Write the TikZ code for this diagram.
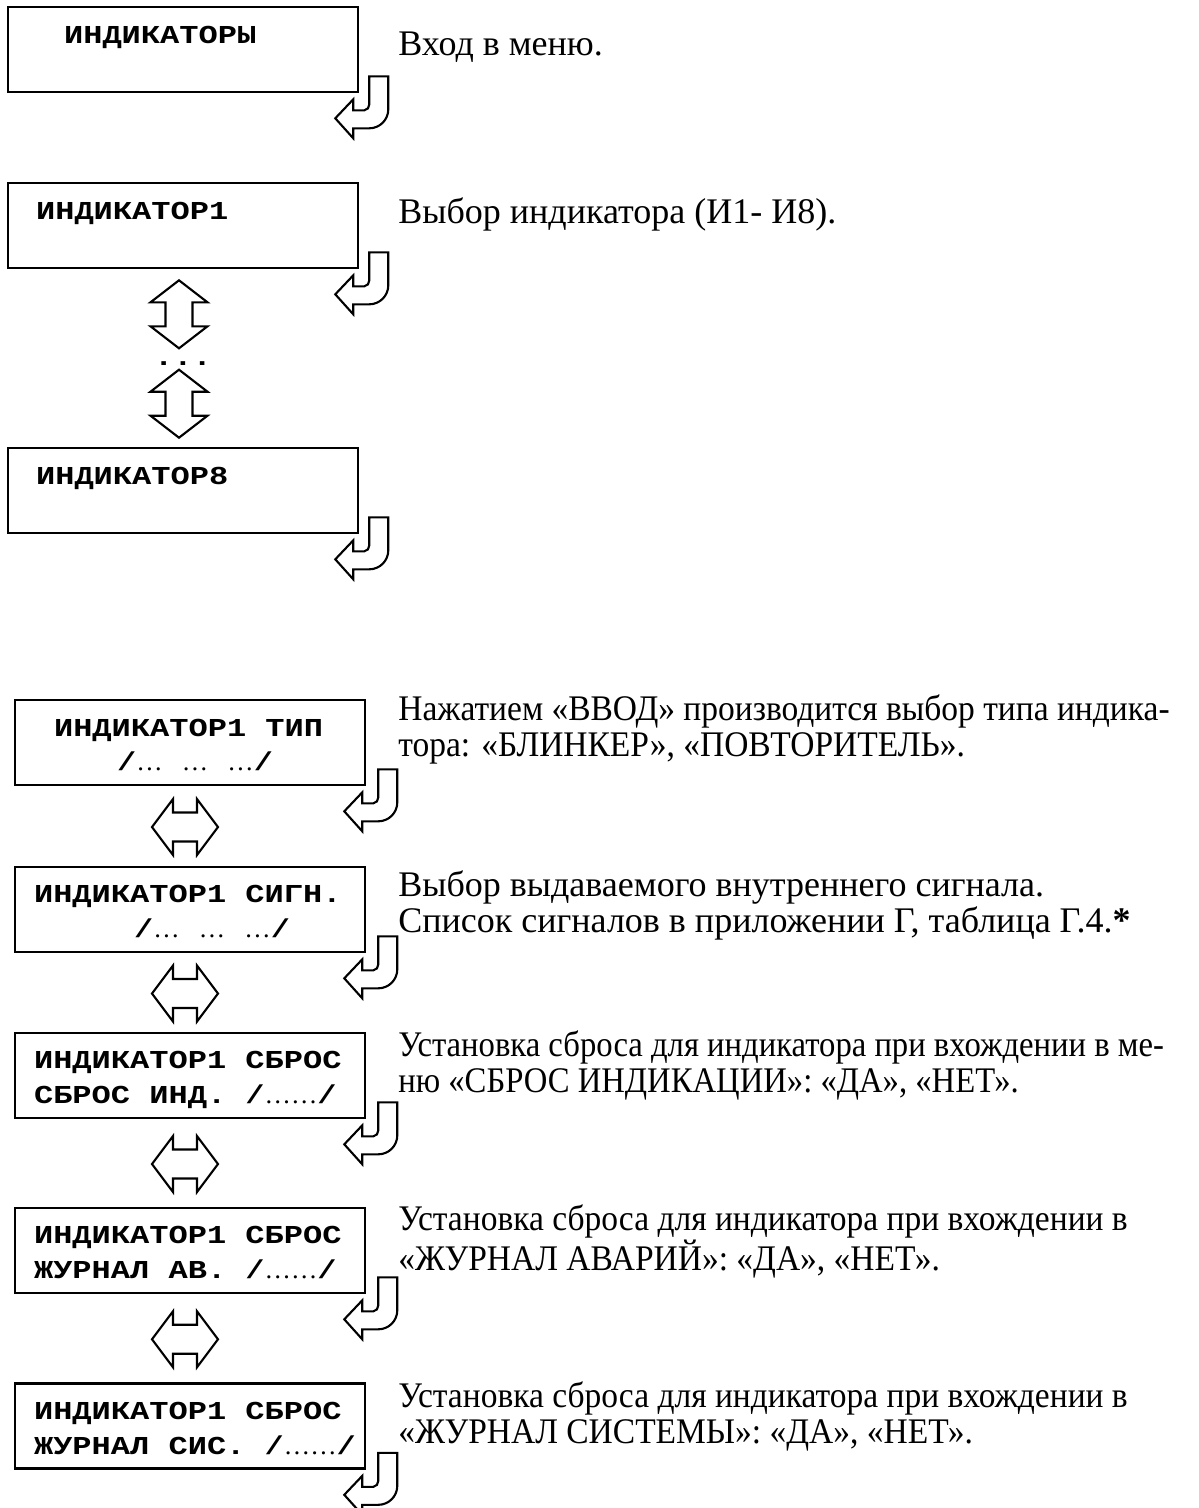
\documentclass[tikz,border=0pt]{standalone}
\usepackage{fontspec}
\setmainfont{Liberation Serif}
\newfontfamily\narrowfont[FakeStretch=0.93]{Liberation Serif}
\newfontfamily\narrowerfont[FakeStretch=0.907]{Liberation Serif}
\newfontfamily\lcdfont[FakeStretch=1.24]{Liberation Mono}
\usetikzlibrary{calc}

% small serif dots inside the display lines
\newcommand\dd{{\rmfamily\mdseries\fontsize{15}{15}\selectfont …}}

\begin{document}
\begin{tikzpicture}[x=0.02cm, y=-0.02cm,
  lcd/.style={draw, line width=1.5pt, minimum width=7cm, minimum height=1.7cm, inner sep=0pt},
  lt/.style={font=\lcdfont\bfseries\fontsize{14.7}{17}\selectfont, anchor=base west, inner sep=0pt},
  note/.style={font=\fontsize{20.5}{20.4}\selectfont, anchor=base west, inner sep=0pt, align=left},
  nnote/.style={note, font=\narrowfont\fontsize{20.5}{20.4}\selectfont},
  arr/.style={draw, line width=1.2pt, fill=white, line join=miter},
  hookarrow/.pic={
    \path[arr] (0,0) -- (19,0) -- (19,33) .. controls (19,43.5) and (10.5,52) .. (0,52)
      -- (-16,52) -- (-16,62) -- (-34,42) -- (-16,23) -- (-16,34) -- (-5,34)
      .. controls (-2,34) and (0,31) .. (0,28) -- cycle;},
  vdbl/.pic={
    \path[arr] (0,-34) -- (28.5,-12) -- (13.5,-12) -- (13.5,12) -- (28.5,12) -- (0,34)
      -- (-28.5,12) -- (-13.5,12) -- (-13.5,-12) -- (-28.5,-12) -- cycle;},
  hdbl/.pic={
    \path[arr] (-33,0) -- (-12,-28) -- (-12,-14.5) -- (12,-14.5) -- (12,-28) -- (33,0)
      -- (12,28) -- (12,14.5) -- (-12,14.5) -- (-12,28) -- cycle;}
]
\useasboundingbox (0,0) rectangle (1199,1508);

% ===== menu entry and indicator choice =====
\node[lcd] (ind)  at (183,49.5) {};
\node[lcd] (ind1) at (183,225.5) {};
\node[lcd] (ind8) at (183,490.5) {};
\node[lt] (ind-t)  at ($(ind.north west)+(57,38)$)  {ИНДИКАТОРЫ};
\node[lt] (ind1-t) at ($(ind1.north west)+(29,38)$) {ИНДИКАТОР1};
\node[lt] (ind8-t) at ($(ind8.north west)+(29,38)$) {ИНДИКАТОР8};

\pic at ($(ind.south east)+(10,-17)$)  {hookarrow};
\pic at ($(ind1.south east)+(10,-17)$) {hookarrow};
\pic at ($(ind8.south east)+(10,-17)$) {hookarrow};

\pic at ($(ind1.south)+(-4,45)$) {vdbl};
\node[lt, anchor=base] (dots) at ($(ind1.south)+(0,96)$) {...};
\pic at ($(ind8.north)+(-4,-43)$) {vdbl};

\node[note] (n-ind)  at (398,55)  {Вход в меню.};
\node[note] (n-ind1) at (398,223) {Выбор индикатора (И1- И8).};

% ===== settings of one indicator =====
\node[lcd] (typ) at (190,742.5)  {};
\node[lcd] (sig) at (190,909.5)  {};
\node[lcd] (rsi) at (190,1075.5) {};
\node[lcd] (rja) at (190,1250.5) {};
\node[lcd] (rjs) at (190,1426)   {};

\node[lt] (typ-a) at ($(typ.north west)+(40,38)$)  {ИНДИКАТОР1 ТИП};
\node[lt] (typ-b) at ($(typ.north west)+(103,72)$) {/\dd\ \dd\ \dd/};
\node[lt] (sig-a) at ($(sig.north west)+(20,37)$)  {ИНДИКАТОР1 СИГН.};
\node[lt] (sig-b) at ($(sig.north west)+(120,72)$) {/\dd\ \dd\ \dd/};
\node[lt] (rsi-a) at ($(rsi.north west)+(20,37)$)  {ИНДИКАТОР1 СБРОС};
\node[lt] (rsi-b) at ($(rsi.north west)+(20,72)$)  {СБРОС ИНД. /\dd\dd/};
\node[lt] (rja-a) at ($(rja.north west)+(20,37)$)  {ИНДИКАТОР1 СБРОС};
\node[lt] (rja-b) at ($(rja.north west)+(20,72)$)  {ЖУРНАЛ АВ. /\dd\dd/};
\node[lt] (rjs-a) at ($(rjs.north west)+(20,37)$)  {ИНДИКАТОР1 СБРОС};
\node[lt] (rjs-b) at ($(rjs.north west)+(20,72)$)  {ЖУРНАЛ СИС. /\dd\dd/};

\foreach \b in {typ,sig,rsi,rja,rjs}
  \pic at ($(\b.south east)+(12,-17)$) {hookarrow};

\foreach \a/\b in {typ/sig,sig/rsi,rsi/rja,rja/rjs}
  \pic at ($($(\a.south)!0.5!(\b.north)$)+(-5,1)$) {hdbl};

% base = last line of each note
\node[nnote] (n-typ) at (398,756)  {Нажатием «ВВОД» производится выбор типа индика-\\тора: «БЛИНКЕР», «ПОВТОРИТЕЛЬ».};
\node[note]  (n-sig) at (398,932)  {Выбор выдаваемого внутреннего сигнала.\\Список сигналов в приложении Г, таблица Г.4.\textbf{*}};
\node[nnote, font=\narrowerfont\fontsize{20.5}{20.4}\selectfont] (n-rsi) at (398,1092) {Установка сброса для индикатора при вхождении в ме-\\ню «СБРОС ИНДИКАЦИИ»: «ДА», «НЕТ».};
\node[nnote] (n-rja) at (398,1270) {Установка сброса для индикатора при вхождении в\\«ЖУРНАЛ АВАРИЙ»: «ДА», «НЕТ».};
\node[nnote] (n-rjs) at (398,1443) {Установка сброса для индикатора при вхождении в\\«ЖУРНАЛ СИСТЕМЫ»: «ДА», «НЕТ».};
\end{tikzpicture}
\end{document}
